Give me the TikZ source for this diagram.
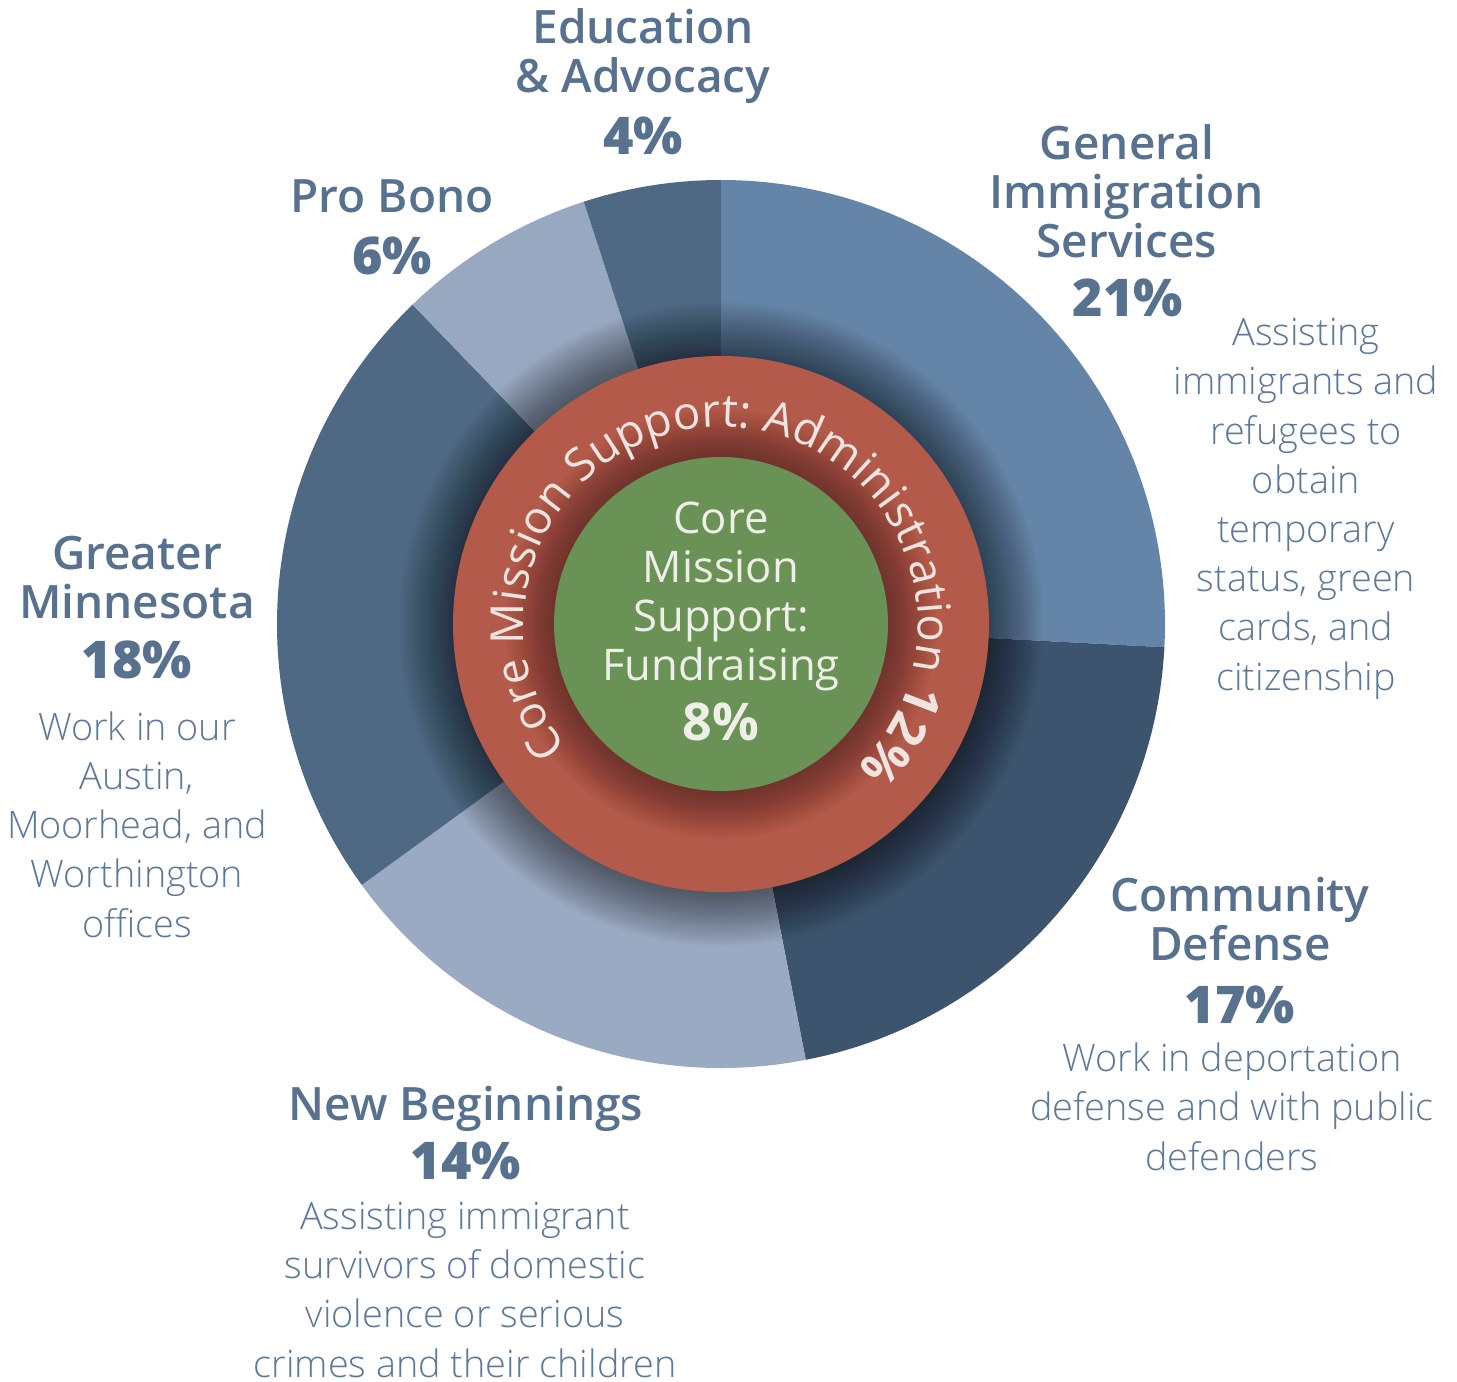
\documentclass[tikz,border=0pt]{standalone}
\usepackage{fontspec}
\setmainfont{Open Sans}
\IfFontExistsTF{Open Sans Light}{\newfontfamily\lightfam{Open Sans Light}}{\newfontfamily\lightfam{Open Sans}}
\IfFontExistsTF{Open Sans SemiBold}{\newfontfamily\semifam{Open Sans SemiBold}}{%
  \IfFontExistsTF{Open Sans Semibold}{\newfontfamily\semifam{Open Sans Semibold}}{%
    \IfFontExistsTF{OpenSans-SemiBold}{\newfontfamily\semifam{OpenSans-SemiBold}}{\newcommand\semifam{\bfseries}}}}
\IfFontExistsTF{Open Sans ExtraBold}{\newfontfamily\xbfam{Open Sans ExtraBold}}{%
  \IfFontExistsTF{Open Sans Extrabold}{\newfontfamily\xbfam{Open Sans Extrabold}}{%
    \IfFontExistsTF{OpenSans-ExtraBold}{\newfontfamily\xbfam{OpenSans-ExtraBold}}{\newcommand\xbfam{\bfseries}}}}
\usetikzlibrary{decorations.text}

\definecolor{colGIS}{HTML}{6485A8}
\definecolor{colCD}{HTML}{3D546E}
\definecolor{colNB}{HTML}{9AAAC2}
\definecolor{colGM}{HTML}{4F6985}
\definecolor{colPB}{HTML}{97A8C0}
\definecolor{colEDU}{HTML}{4F6985}
\definecolor{admin}{HTML}{B35A4A}
\definecolor{fund}{HTML}{6A9156}
\definecolor{ttlcol}{HTML}{57718F}
\definecolor{txtcol}{HTML}{5E7898}
\definecolor{ringtext}{HTML}{F0E4E1}
\definecolor{midtext}{HTML}{EEF0E8}

\newcommand\ringfont{\fontsize{22.8}{26}\selectfont\color{ringtext}}
\newcommand\ringbold{\bfseries\fontsize{25}{26}\selectfont\color{ringtext}}

\begin{document}
\begin{tikzpicture}[x=0.5pt,y=0.5pt,
  ttl/.style={font=\semifam\fontsize{23}{24.5}\selectfont, text=ttlcol, align=center, anchor=base, inner sep=0pt},
  pct/.style={font=\xbfam\fontsize{26}{28}\selectfont, text=ttlcol, anchor=base, inner sep=0pt},
  txt/.style={font=\lightfam\fontsize{18.9}{24.6}\selectfont, text=txtcol, align=center, anchor=base, inner sep=0pt},
  mid/.style={font=\fontsize{21.8}{24.5}\selectfont, text=midtext, align=center, anchor=base, inner sep=0pt},
  midpct/.style={font=\bfseries\fontsize{26}{28}\selectfont, text=midtext, anchor=base, inner sep=0pt}]
\useasboundingbox (-721,-758) rectangle (736,624);
% outer ring
\foreach \a/\b/\c in {90/-3/colGIS, -3/-79/colCD, -79/-144/colNB, -144/-226/colGM, -226/-252/colPB, -252/-270/colEDU}
  \fill[\c] (0,0) -- (\a:444) arc[start angle=\a, end angle=\b, radius=444] -- cycle;
% shadows and inner rings
\foreach \r in {322,320,...,268}
  \fill[black, opacity=0.018] (0,0) circle[radius=\r];
\fill[admin] (0,0) circle[radius=268];
\foreach \r in {215,213,...,167}
  \fill[black, opacity=0.014] (0,0) circle[radius=\r];
\fill[fund] (0,0) circle[radius=167];
\path[decorate, decoration={text along path, text align=center,
  text={|\ringfont|Core Mission Support: Administration |\ringbold|12{\%}}}]
  (261:197) arc[start angle=261, end angle=-89, radius=197];

% (base anchor = last line)
\node[mid] (fund) at (0,-56) {Core\\Mission\\Support:\\Fundraising};
\node[midpct] (fundpct) at (0,-116) {8\%};

\node[ttl] (edu) at (-78,531) {Education\\\& Advocacy};
\node[pct] (edupct) at (-78,469) {4\%};
\node[ttl] (pb) at (-329,411) {Pro Bono};
\node[pct] (pbpct) at (-329,349) {6\%};
\node[ttl] (gis) at (406,366) {General\\Immigration\\Services};
\node[pct] (gispct) at (407,307) {21\%};
\node[txt] (gistxt) at (585,-66) {Assisting\\immigrants and\\refugees to\\obtain\\temporary\\status, green\\cards, and\\citizenship};
\node[ttl] (gm) at (-584,6) {Greater\\Minnesota};
\node[pct] (gmpct) at (-584,-54) {18\%};
\node[txt] (gmtxt) at (-584,-313) {Work in our\\Austin,\\Moorhead, and\\Worthington\\offices};
\node[ttl] (nb) at (-255,-496) {New Beginnings};
\node[pct] (nbpct) at (-255,-555) {14\%};
\node[txt] (nbtxt) at (-256,-753) {Assisting immigrant\\survivors of domestic\\violence or serious\\crimes and their children};
\node[ttl] (cd) at (519,-336) {Community\\Defense};
\node[pct] (cdpct) at (519,-399) {17\%};
\node[txt] (cdtxt) at (511,-546) {Work in deportation\\defense and with public\\defenders};
\end{tikzpicture}
\end{document}
